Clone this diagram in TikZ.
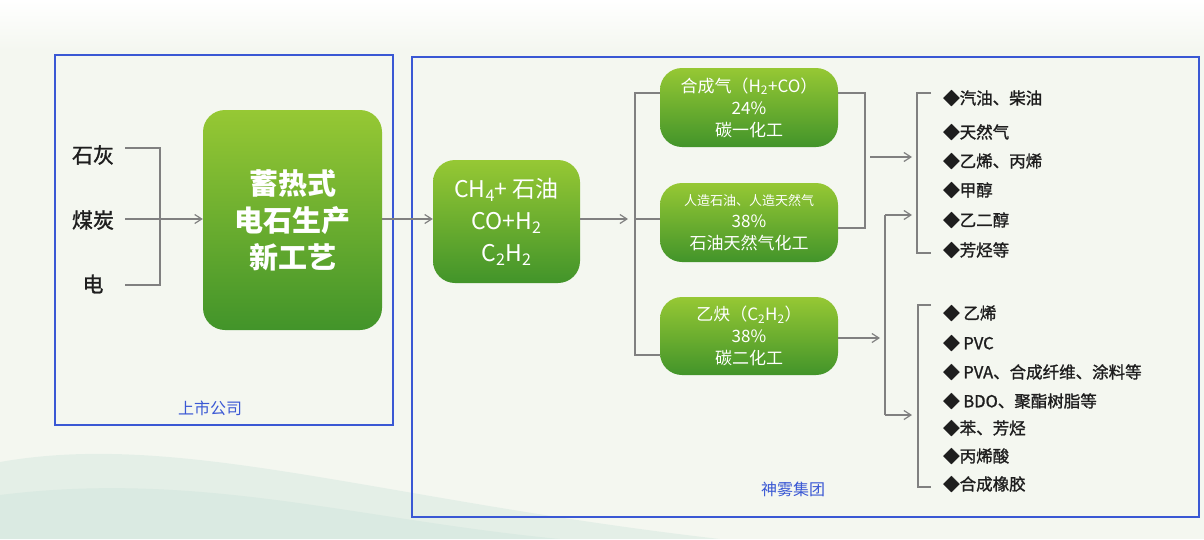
\documentclass[tikz,border=0pt]{standalone}
\usepackage{fontspec}
\setmainfont{Noto Sans CJK SC}
\newfontfamily\medfont[FakeBold=1.3]{Noto Sans CJK SC}
\usetikzlibrary{arrows.meta}
\definecolor{bgc}{RGB}{244,247,240}
\definecolor{bluebox}{RGB}{58,88,212}
\definecolor{gtop}{RGB}{150,200,52}
\definecolor{gbot}{RGB}{66,148,42}
\definecolor{conc}{RGB}{128,128,128}
\definecolor{txt}{RGB}{30,30,30}
\definecolor{wave}{RGB}{150,200,190}
\tikzset{
  gbox/.style={rounded corners=22pt, top color=gtop, bottom color=gbot, draw=none,
    text=white, align=center, inner sep=0pt},
  conn/.style={draw=conc, line width=1.3pt},
  arr/.style={conn, -{Straight Barb[length=7pt,width=9pt,line width=1.2pt]}},
  frame/.style={draw=bluebox, line width=2.6pt},
  inp/.style={text=txt, font=\medfont\fontsize{21}{24}\selectfont, inner sep=0pt},
  item/.style={text=txt, font=\medfont\fontsize{16.5}{19}\selectfont, anchor=west, inner sep=0pt},
  grouplabel/.style={text=bluebox, font=\fontsize{16}{19}\selectfont, inner sep=0pt},
}
\begin{document}
\begin{tikzpicture}[x=1pt,y=-1pt]
\useasboundingbox (0,0) rectangle (1204,539);
\fill[bgc] (0,0) rectangle (1204,539);
\shade[top color=white, bottom color=bgc] (0,0) rectangle (1204,50);
\fill[wave,opacity=0.16] (0,462) .. controls (180,430) and (380,500) .. (720,539) -- (0,539) -- cycle;
\fill[wave,opacity=0.12] (0,495) .. controls (200,470) and (360,520) .. (560,539) -- (0,539) -- cycle;

% frames
\draw[frame] (55,55) rectangle (393,425);
\draw[frame] (412,57) rectangle (1199,517);
\node[grouplabel] (c1) at (210,408) {上市公司};
\node[grouplabel] (c2) at (793,489) {神雾集团};

% inputs
\node[inp] (lime) at (93,155) {石灰};
\node[inp] (coal) at (93,220) {煤炭};
\node[inp] (elec) at (93,284) {电};

\node[gbox, minimum width=179pt, minimum height=220pt,
  font=\fontsize{29}{37}\selectfont\bfseries] (proc) at (292.5,220) {蓄热式\\电石生产\\新工艺};

\node[gbox, minimum width=147pt, minimum height=123pt,
  font=\fontsize{23}{32}\selectfont] (gas) at (506.5,221.5)
  {CH\textsubscript{4}+ 石油\\CO+H\textsubscript{2}\\C\textsubscript{2}H\textsubscript{2}};

\node[gbox, minimum width=178pt, minimum height=79pt,
  font=\fontsize{17}{22}\selectfont] (b1) at (749,107.5)
  {合成气（H\textsubscript{2}+CO）\\24\%\\碳一化工};
\node[gbox, minimum width=178pt, minimum height=79pt,
  font=\fontsize{17}{22}\selectfont] (b2) at (749,222.5)
  {{\fontsize{13}{16}\selectfont 人造石油、人造天然气}\\38\%\\石油天然气化工};
\node[gbox, minimum width=178pt, minimum height=78pt,
  font=\fontsize{17}{22}\selectfont] (b3) at (749,336)
  {乙炔（C\textsubscript{2}H\textsubscript{2}）\\38\%\\碳二化工};

% left connectors
\coordinate (l1) at (125,148);
\coordinate (l2) at (125,219);
\coordinate (l3) at (125,285);
\coordinate (lj1) at (160,148);
\coordinate (lj3) at (160,285);
\draw[conn] (l1) -- (lj1) -- (lj3) -- (l3);
\draw[arr] (l2) -- (proc.west |- l2);
\draw[arr] (proc.east |- l2) -- (gas.west |- l2);

% middle split
\coordinate (sp) at (635,219);
\coordinate (t1) at (635,93);
\coordinate (t3) at (635,355);
\draw[arr] (gas.east |- sp) -- ([xshift=-7pt]sp);
\draw[conn] (b1.west |- t1) -- (t1) -- (t3) -- (b3.west |- t3);
\draw[conn] (sp) -- (b2.west |- sp);

% right merges
\coordinate (r1) at (865,93);
\coordinate (r2) at (865,228);
\draw[conn] (b1.east |- r1) -- (r1) -- (r2) -- (b2.east |- r2);
\coordinate (a1s) at (870,157);
\coordinate (a1e) at (912,157);
\draw[arr] (a1s) -- (a1e);

\coordinate (v1) at (885,215);
\coordinate (v2) at (885,415);
\coordinate (b3r) at (880,338);
\draw[arr] (b3.east |- b3r) -- (b3r);
\draw[conn] (v1) -- (v2);
\draw[arr] (v1) -- (912,215);
\draw[arr] (v2) -- (912,415);

% brackets
\draw[conn] (931,93) -- (917,93) -- (917,253) -- (931,253);
\draw[conn] (931,305) -- (918,305) -- (918,487) -- (931,487);

% list 1
\node[item] (p1) at (943,98) {◆汽油、柴油};
\node[item] (p2) at (943,132) {◆天然气};
\node[item] (p3) at (943,161) {◆乙烯、丙烯};
\node[item] (p4) at (943,190) {◆甲醇};
\node[item] (p5) at (943,220) {◆乙二醇};
\node[item] (p6) at (943,250) {◆芳烃等};

% list 2
\node[item] (q1) at (943,313) {◆ 乙烯};
\node[item] (q2) at (943,343) {◆ PVC};
\node[item] (q3) at (943,372) {◆ PVA、合成纤维、涂料等};
\node[item] (q4) at (943,401) {◆ BDO、聚酯树脂等};
\node[item] (q5) at (943,428) {◆苯、芳烃};
\node[item] (q6) at (943,456) {◆丙烯酸};
\node[item] (q7) at (943,484) {◆合成橡胶};
\end{tikzpicture}
\end{document}
